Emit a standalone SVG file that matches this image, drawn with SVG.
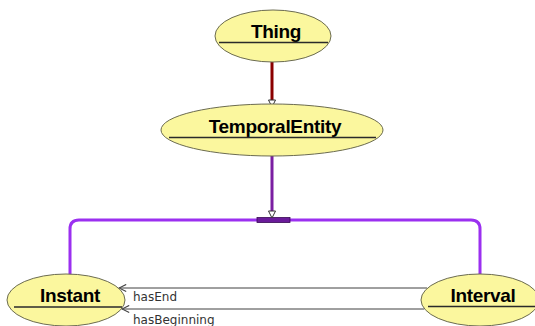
<svg xmlns="http://www.w3.org/2000/svg" width="535" height="326" viewBox="0 0 535 326">
  <style>
    .node ellipse { fill: #fbf79e; stroke: #6b6b50; stroke-width: 1; }
    .node line { stroke: #2a2a2a; stroke-width: 1.5; }
    .node text { font-family: "Liberation Sans", Arial, sans-serif; font-weight: bold; font-size: 19px; fill: #000; text-anchor: middle; letter-spacing: -0.3px; }
    .isa-red { stroke: #8b0000; stroke-width: 3; fill: none; }
    .isa-violet { stroke: #7b1fa2; stroke-width: 3; fill: none; }
    .branch { stroke: #9b30f0; stroke-width: 3; fill: none; }
    .rel { stroke: #404040; stroke-width: 1; fill: none; }
    .rel-label { font-family: "DejaVu Sans", Verdana, sans-serif; font-size: 12px; fill: #333; }
  </style>
  <defs>
    <marker id="open-arrow" viewBox="0 0 10 10" refX="9" refY="5" markerWidth="9" markerHeight="9" markerUnits="userSpaceOnUse" orient="auto">
      <path d="M1,1 L9,5 L1,9" fill="none" stroke="#404040" stroke-width="1.2"/>
    </marker>
  </defs>

  <g id="connectors">
    <!-- Thing to TemporalEntity -->
    <line class="isa-red" x1="272" y1="62" x2="272" y2="101"/>
    <path d="M268.5,100 L275.5,100 L272,107 Z" fill="#fff" stroke="#333" stroke-width="1"/>
    <!-- TemporalEntity to subclasses -->
    <line class="isa-violet" x1="272" y1="156" x2="272" y2="212"/>
    <path class="branch" d="M70,275 L70,229 Q70,220 79,220 L471,220 Q480,220 480,229 L480,274"/>
    <rect x="257" y="217.5" width="33" height="5" fill="#6a1b9a" stroke="#3a0a55" stroke-width="0.8"/>
    <path d="M268.5,211 L275.5,211 L272,218 Z" fill="#fff" stroke="#333" stroke-width="1"/>
    <!-- Interval to Instant relations -->
    <line class="rel" x1="427" y1="288" x2="119" y2="288" marker-end="url(#open-arrow)"/>
    <line class="rel" x1="424" y1="309" x2="122" y2="309" marker-end="url(#open-arrow)"/>
    <text class="rel-label" x="133" y="301">hasEnd</text>
    <text class="rel-label" x="133" y="324">hasBeginning</text>
  </g>

  <g id="thing" class="node">
    <ellipse cx="273" cy="36" rx="58" ry="26"/>
    <text x="276" y="37.5">Thing</text>
    <line x1="219" y1="42.5" x2="328" y2="42.5"/>
  </g>

  <g id="temporal-entity" class="node">
    <ellipse cx="272" cy="130" rx="111" ry="26"/>
    <text x="275" y="132.5">TemporalEntity</text>
    <line x1="169" y1="137.5" x2="376" y2="137.5"/>
  </g>

  <g id="instant" class="node">
    <ellipse cx="66" cy="300" rx="59" ry="26"/>
    <text x="70" y="301.5">Instant</text>
    <line x1="14" y1="307" x2="122" y2="307"/>
  </g>

  <g id="interval" class="node">
    <ellipse cx="480" cy="300" rx="59" ry="26"/>
    <text x="483" y="301.5">Interval</text>
    <line x1="428" y1="306.5" x2="535" y2="306.5"/>
  </g>
</svg>
